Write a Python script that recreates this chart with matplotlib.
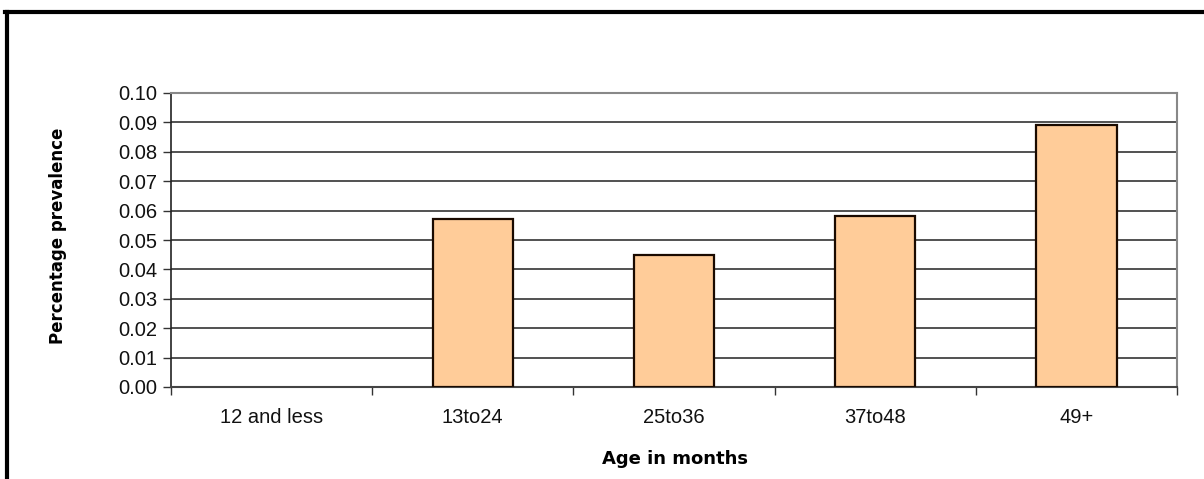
import matplotlib.pyplot as plt
from matplotlib.lines import Line2D

categories = ["12 and less", "13to24", "25to36", "37to48", "49+"]
prevalence = [0.0, 0.057, 0.045, 0.058, 0.089]
yticks = [0.00, 0.01, 0.02, 0.03, 0.04, 0.05, 0.06, 0.07, 0.08, 0.09, 0.10]

plt.rcParams['font.family'] = ['Liberation Sans', 'DejaVu Sans']

fig = plt.figure(figsize=(12.04, 4.79), dpi=100)
ax = fig.add_axes([171 / 1204, 1 - 387 / 479, (1177 - 171) / 1204, (387 - 93) / 479])

x = list(range(len(categories)))
# no outline for empty bars
edges = ["#1a0a00" if v > 0 else "none" for v in prevalence]
ax.bar(x, prevalence, width=0.4, color="#FFCC99", edgecolor=edges,
       linewidth=1.6, zorder=3)

ax.set_xlim(-0.5, len(categories) - 0.5)
ax.set_ylim(0, 0.10)
ax.set_yticks(yticks)
ax.set_yticklabels([f"{v:.2f}" for v in yticks], fontsize=14.5, color="#111111")
ax.yaxis.grid(True, color="#222222", linewidth=1.1, zorder=0)

# categories labelled at centers, tick marks between categories
ax.set_xticks(x)
ax.set_xticklabels(categories, fontsize=14.5, color="#111111")
ax.tick_params(axis="x", length=0, pad=15)
ax.set_xticks([i - 0.5 for i in range(len(categories) + 1)], minor=True)
ax.tick_params(axis="x", which="minor", length=6, width=1, color="#333333",
               direction="out")
ax.tick_params(axis="y", length=6, width=1, color="#333333", direction="out", pad=4)

for side in ["top", "right"]:
    ax.spines[side].set_color("#888888")
    ax.spines[side].set_linewidth(1.5)
ax.spines["left"].set_color("#222222")
ax.spines["bottom"].set_color("#444444")
ax.spines["left"].set_linewidth(1.2)
ax.spines["bottom"].set_linewidth(1.5)

ax.set_xlabel("Age in months", fontsize=13, fontweight="bold",
              family=["DejaVu Sans"])
ax.set_ylabel("Percentage prevalence", fontsize=12, fontweight="bold",
              family=["DejaVu Sans"])
ax.xaxis.set_label_coords(0.501, -0.214)
ax.yaxis.set_label_coords(-0.103, 0.514)

# outer frame (only left and top edges visible in the crop)
fig.add_artist(Line2D([6.5 / 1204, 6.5 / 1204], [0, 1 - 11.5 / 479],
                      transform=fig.transFigure, color="black", linewidth=3))
fig.add_artist(Line2D([5 / 1204, 1], [1 - 11.5 / 479, 1 - 11.5 / 479],
                      transform=fig.transFigure, color="black", linewidth=3))

fig.savefig("out.png", dpi=100)
